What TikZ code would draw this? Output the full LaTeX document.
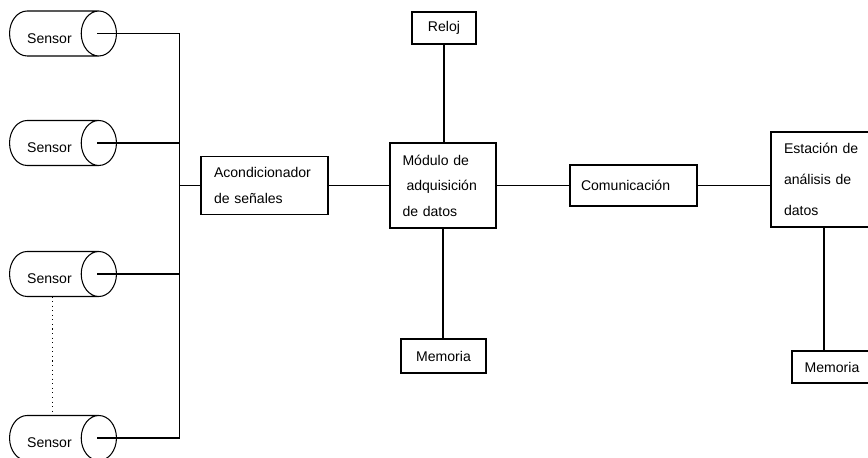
\documentclass[tikz,border=0pt]{standalone}
\usepackage{fontspec}
\setmainfont{Liberation Sans}
\usetikzlibrary{shapes.geometric,positioning,calc}

\begin{document}
\begin{tikzpicture}[x=1cm,y=1cm,line width=0.6pt,
  sensor/.style={cylinder,draw,aspect=1.75,minimum width=0.9cm,minimum height=2.12cm,inner sep=0pt,anchor=top,text height=0.4cm,font=\fontsize{8}{9.6}\selectfont},
  bloque/.style={draw,rectangle,inner sep=0pt,align=left,font=\fontsize{8}{14.5}\selectfont}]
\useasboundingbox (0,0) rectangle (17.36,9.16);
\clip (0,0) rectangle (17.36,9.16);
\node[sensor] (s1) at (2.34,8.49) {Sensor\hspace*{0.18cm}};
\node[sensor] (s2) at (2.34,6.30) {Sensor\hspace*{0.18cm}};
\node[sensor] (s3) at (2.34,3.68) {Sensor\hspace*{0.18cm}};
\node[sensor] (s4) at (2.34,0.40) {Sensor\hspace*{0.18cm}};
\coordinate (bus) at (3.59,5.45);
\draw ([xshift=-0.4cm]s1.top) -- (s1.top -| bus);
\draw ([xshift=-0.4cm]s2.top) -- (s2.top -| bus);
\draw ([xshift=-0.4cm]s3.top) -- (s3.top -| bus);
\draw ([xshift=-0.4cm]s4.top) -- (s4.top -| bus);
\draw (s1.top -| bus) -- (s4.top -| bus);
\draw[dotted] ($(s3.bottom)!0.4!(s3.top)+(0,-0.45)$) -- ($(s4.bottom)!0.4!(s4.top)+(0,0.45)$);
\node[bloque,text width=2.02cm,minimum width=2.54cm,minimum height=1.16cm] (acond) at (5.29,5.45) {Acondicionador\\de señales};
\node[bloque,text width=1.62cm,minimum width=2.12cm,minimum height=1.70cm] (modulo) at (8.86,5.45) {Módulo de\\\hspace*{0.08cm}adquisición\\de datos};
\node[bloque,text width=2.1cm,minimum width=2.54cm,minimum height=0.82cm] (comunic) at (12.67,5.45) {Comunicación};
\node[bloque,text width=1.6cm,minimum width=2.12cm,minimum height=1.90cm,font=\fontsize{8}{17.5}\selectfont] (estacion) at (16.48,5.57) {Estación de\\análisis de\\datos};
\node[bloque,minimum width=1.28cm,minimum height=0.64cm] (reloj) at (8.88,8.60) {Reloj};
\node[bloque,minimum width=1.70cm,minimum height=0.68cm] (mem1) at (8.87,2.04) {Memoria};
\node[bloque,minimum width=1.60cm,minimum height=0.64cm] (mem2) at (16.64,1.82) {Memoria};
\draw (bus) -- (acond.west);
\draw (acond.east) -- (modulo.west);
\draw (modulo.east) -- (comunic.west);
\draw (comunic.east) -- (comunic.east -| estacion.west);
\draw (reloj.south) -- (reloj.south |- modulo.north);
\draw (modulo.south) -- (modulo.south |- mem1.north);
\draw (estacion.south) -- (estacion.south |- mem2.north);
\end{tikzpicture}
\end{document}
